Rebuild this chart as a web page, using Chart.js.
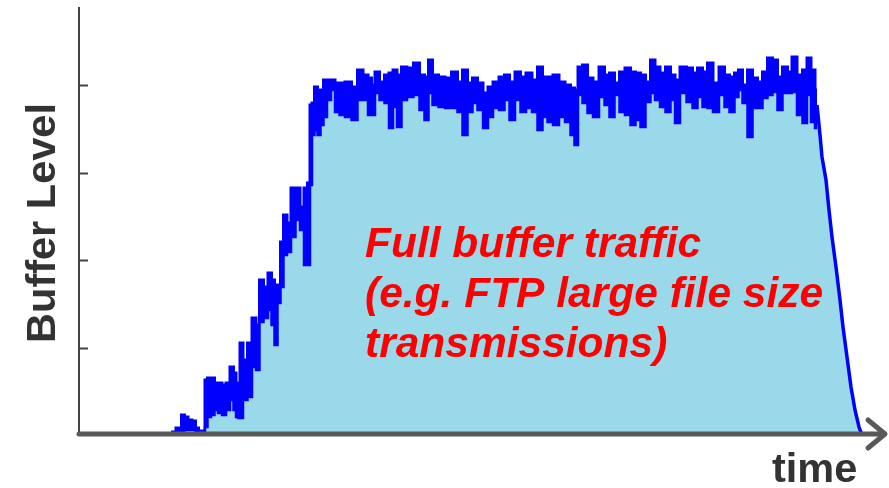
<!DOCTYPE html>
<html>
<head>
<meta charset="utf-8">
<title>Buffer level - full buffer traffic</title>
<script src="https://cdn.jsdelivr.net/npm/chart.js@4/dist/chart.umd.min.js"></script>
<style>
  html, body { margin: 0; padding: 0; background: #fff; }
  #wrap { width: 889px; height: 488px; }
</style>
</head>
<body>
<div id="wrap"><canvas id="bufChart" width="889" height="488"></canvas></div>
<script>
// time axis samples (arbitrary units, 0..807) while the buffer fills / stays full
const timeSteps = [
  91, 96, 98, 101, 104, 107, 111, 115, 118, 121,
  125, 127, 130, 134, 137, 141, 145, 149, 153, 156,
  158, 160, 162, 166, 171, 175, 179, 182, 187, 191,
  194, 197, 200, 203, 206, 210, 214, 219, 223, 227,
  230, 232, 234, 237, 240, 243, 246, 250, 254, 258,
  263, 269, 276, 281, 287, 291, 294, 298, 303, 308,
  312, 316, 320, 325, 331, 338, 343, 348, 351, 356,
  363, 369, 376, 381, 386, 391, 396, 401, 407, 411,
  417, 423, 428, 433, 439, 444, 450, 456, 461, 466,
  471, 477, 483, 489, 494, 497, 501, 506, 511, 517,
  523, 528, 533, 538, 543, 549, 554, 559, 564, 569,
  574, 578, 584, 589, 594, 598, 604, 611, 616, 621,
  626, 631, 637, 643, 648, 653, 658, 661, 666, 671,
  676, 681, 686, 691, 696, 701, 706, 711, 715, 721,
  726, 730, 734, 738
];
// buffer level, peaks of the fast oscillation
const levelHigh = [
  0, 3, 7, 3, 20, 18, 15, 14, 7, 4,
  4, 55, 57, 57, 52, 52, 50, 52, 68, 62,
  52, 50, 92, 75, 92, 117, 110, 155, 148, 162,
  155, 145, 150, 193, 220, 212, 247, 247, 228, 247,
  252, 330, 332, 348, 340, 345, 355, 355, 355, 352,
  352, 353, 348, 365, 360, 357, 350, 363, 353, 360,
  362, 365, 360, 368, 367, 372, 360, 358, 375, 360,
  358, 357, 363, 353, 365, 352, 357, 352, 342, 348,
  353, 358, 360, 353, 363, 358, 362, 355, 368, 358,
  358, 360, 353, 350, 347, 345, 368, 370, 357, 353,
  368, 360, 362, 352, 363, 367, 363, 362, 360, 353,
  375, 368, 362, 368, 360, 355, 368, 367, 362, 367,
  363, 372, 352, 368, 360, 358, 362, 365, 350, 365,
  357, 353, 363, 377, 375, 358, 368, 363, 378, 360,
  365, 377, 365, 345
];
// buffer level, troughs of the fast oscillation
const levelLow = [
  0, 0, 0, 0, 3, 5, 5, 5, 3, 0,
  0, 8, 18, 20, 25, 22, 20, 25, 35, 25,
  18, 17, 17, 35, 38, 68, 65, 113, 117, 125,
  110, 90, 132, 148, 180, 183, 198, 215, 205, 170,
  170, 250, 300, 305, 300, 310, 318, 335, 345, 323,
  320, 318, 315, 335, 335, 320, 320, 342, 335, 332,
  307, 328, 308, 335, 338, 340, 325, 315, 342, 330,
  328, 327, 327, 323, 300, 323, 332, 325, 307, 318,
  327, 325, 335, 315, 335, 323, 327, 323, 305, 318,
  313, 310, 318, 313, 300, 290, 340, 332, 322, 318,
  338, 330, 318, 340, 323, 320, 310, 315, 308, 333,
  342, 335, 328, 323, 335, 312, 342, 333, 327, 338,
  328, 327, 323, 340, 328, 323, 338, 345, 332, 298,
  327, 327, 337, 340, 343, 325, 342, 342, 343, 320,
  312, 340, 313, 307
];
// draining phase after the transfer ends
const drainSteps = [738, 741, 743, 747, 750, 753, 757, 761, 764, 768, 772, 776, 780, 783];
const drainLevel = [330, 300, 278, 255, 225, 198, 168, 135, 108, 78, 48, 25, 8, 0];

const yTicks = [87.5, 175, 262.5, 350];
const yTitle = 'Buffer Level';
const xTitle = 'time';
const noteLines = ['Full buffer traffic', '(e.g. FTP large file size', 'transmissions)'];

const BLUE = '#0000ff', SKY = '#99d9ea', AXIS = '#595959', INK = '#333333';

const axesPlugin = {
  id: 'axesPlugin',
  afterDatasetsDraw(chart) {
    const ctx = chart.ctx, x = chart.scales.x, y = chart.scales.y;
    const x0 = x.getPixelForValue(0), y0 = y.getPixelForValue(0);
    ctx.save();
    // y axis + ticks
    ctx.strokeStyle = '#444';
    ctx.lineWidth = 2;
    ctx.beginPath();
    ctx.moveTo(x0, chart.chartArea.top);
    ctx.lineTo(x0, y0);
    yTicks.forEach(t => {
      const py = Math.round(y.getPixelForValue(t)) + 0.5;
      ctx.moveTo(x0, py); ctx.lineTo(x0 + 9, py);
    });
    ctx.stroke();
    // x axis arrow
    ctx.strokeStyle = AXIS;
    ctx.lineWidth = 5;
    ctx.lineCap = 'round';
    ctx.lineJoin = 'round';
    const ya = y0 - 1;
    ctx.beginPath();
    ctx.moveTo(x0, ya); ctx.lineTo(884, ya);
    ctx.moveTo(868, ya - 14); ctx.lineTo(885, ya); ctx.lineTo(868, ya + 14);
    ctx.stroke();
    // titles
    ctx.fillStyle = INK;
    ctx.font = 'bold 41.5px "Liberation Sans", Arial, sans-serif';
    ctx.textBaseline = 'alphabetic';
    ctx.save();
    ctx.translate(55, 223);
    ctx.rotate(-Math.PI / 2);
    ctx.textAlign = 'center';
    ctx.fillText(yTitle, 0, 0);
    ctx.restore();
    ctx.textAlign = 'left';
    ctx.fillText(xTitle, 772, 482);
    // note
    ctx.fillStyle = '#ff0000';
    ctx.font = 'italic bold 42.5px "Liberation Sans", Arial, sans-serif';
    noteLines.forEach((s, i) => ctx.fillText(s, 365, 257 + i * 50));
    ctx.restore();
  }
};

new Chart(document.getElementById('bufChart'), {
  type: 'line',
  data: {
    datasets: [
      {
        data: timeSteps.map((t, i) => ({ x: t, y: levelLow[i] })),
        borderColor: BLUE, borderWidth: 2.5, backgroundColor: SKY,
        fill: 'origin', pointRadius: 0, stepped: 'middle'
      },
      {
        data: timeSteps.map((t, i) => ({ x: t, y: levelHigh[i] })),
        borderColor: BLUE, borderWidth: 3, backgroundColor: BLUE,
        fill: '-1', pointRadius: 0, stepped: 'middle'
      },
      {
        data: drainSteps.map((t, i) => ({ x: t, y: drainLevel[i] })),
        borderColor: BLUE, borderWidth: 3.5, backgroundColor: SKY,
        fill: 'origin', pointRadius: 0, tension: 0
      }
    ]
  },
  options: {
    responsive: false,
    animation: false,
    layout: { padding: { left: 79, right: 3, top: 7, bottom: 53 } },
    plugins: { legend: { display: false }, tooltip: { enabled: false } },
    scales: {
      x: { type: 'linear', min: 0, max: 807, display: false },
      y: { min: 0, max: 428, display: false }
    }
  },
  plugins: [axesPlugin]
});
</script>
</body>
</html>
